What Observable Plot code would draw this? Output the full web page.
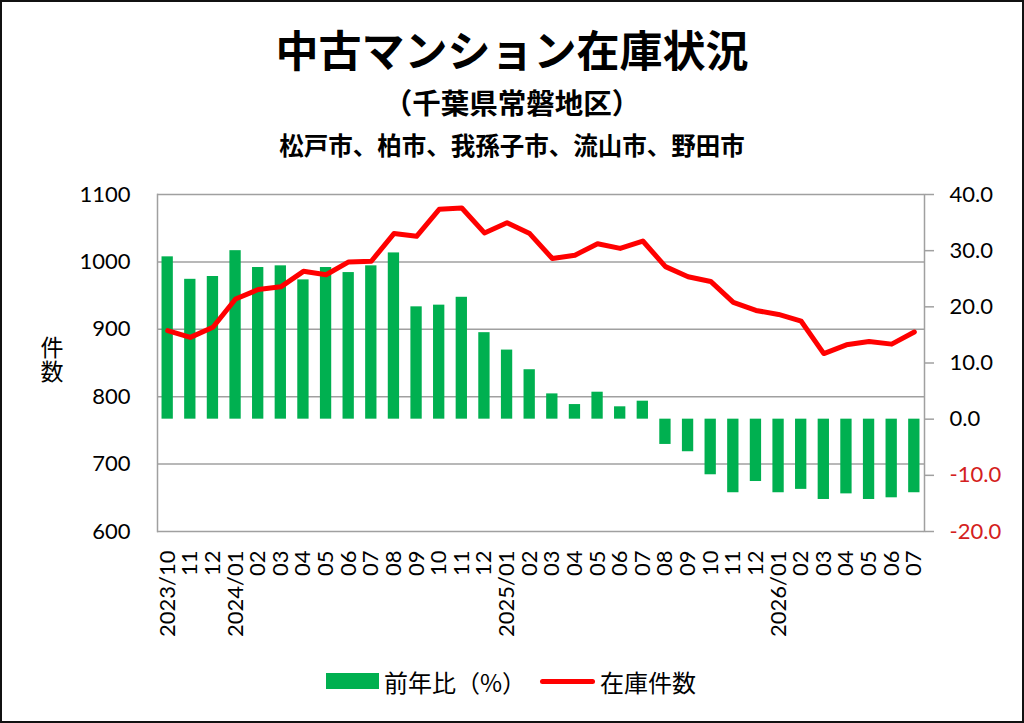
<!DOCTYPE html>
<html><head><meta charset="utf-8">
<script src="https://cdn.jsdelivr.net/npm/d3@7"></script>
<script src="https://cdn.jsdelivr.net/npm/@observablehq/plot@0.6"></script>
<style>
html,body{margin:0;padding:0;background:#fff;}
#wrap{position:relative;width:1024px;height:723px;overflow:hidden;background:#fff;font-family:"Noto Sans CJK JP","Noto Sans",sans-serif;color:#000;}
#border{position:absolute;left:0;top:0;width:1024px;height:723px;box-sizing:border-box;border:2px solid #111;pointer-events:none;}
.t{position:absolute;left:0;width:1024px;text-align:center;white-space:nowrap;}
#title{top:20px;height:56px;line-height:56px;font-size:43px;font-weight:bold;}
#sub1{top:83px;height:38px;line-height:38px;font-size:28.5px;font-weight:bold;}
#sub2{top:128px;height:34px;line-height:34px;font-size:24.5px;font-weight:bold;}
#ylab{position:absolute;left:40px;top:336px;width:24px;font-size:23px;line-height:24px;writing-mode:vertical-rl;text-orientation:upright;letter-spacing:1px;}
#chart{position:absolute;left:0;top:170px;}
#legend{position:absolute;top:666px;left:0;width:1024px;height:32px;font-size:24px;}
.lg{position:absolute;top:0;height:32px;line-height:32px;white-space:nowrap;}
</style></head>
<body><div id="wrap">
<div class="t" id="title">中古マンション在庫状況</div>
<div class="t" id="sub1">（千葉県常磐地区）</div>
<div class="t" id="sub2">松戸市、柏市、我孫子市、流山市、野田市</div>
<div id="ylab">件数</div>
<div id="chart"></div>
<div id="legend">
  <div class="lg" style="left:326px;top:7px;width:53px;height:16px;background:#00b050;"></div>
  <div class="lg" style="left:384px;">前年比（%）</div>
  <div class="lg" style="left:540px;top:13px;width:55px;height:5px;border-radius:3px;background:#ff0000;"></div>
  <div class="lg" style="left:600px;">在庫件数</div>
</div>
<div id="border"></div>
</div>
<script>
const months = ["2023/10","2023/11","2023/12","2024/01","2024/02","2024/03","2024/04","2024/05","2024/06","2024/07","2024/08","2024/09","2024/10","2024/11","2024/12","2025/01","2025/02","2025/03","2025/04","2025/05","2025/06","2025/07","2025/08","2025/09","2025/10","2025/11","2025/12","2026/01","2026/02","2026/03","2026/04","2026/05","2026/06","2026/07"];
const tickLabels = ["2023/10","11","12","2024/01","02","03","04","05","06","07","08","09","10","11","12","2025/01","02","03","04","05","06","07","08","09","10","11","12","2026/01","02","03","04","05","06","07"];
const yoyPct = [28.9,24.9,25.4,30.0,27.0,27.3,24.8,27.0,26.1,27.3,29.6,20.0,20.3,21.7,15.4,12.3,8.8,4.5,2.6,4.8,2.2,3.2,-4.5,-5.8,-9.9,-13.1,-11.1,-13.1,-12.5,-14.3,-13.3,-14.3,-14.0,-13.1];
const inventory = [898,888,903,945,959,963,986,981,1000,1001,1042,1038,1078,1080,1043,1058,1042,1005,1010,1027,1020,1031,993,978,971,940,928,922,912,864,877,882,878,896];
const leftTicks = [600,700,800,900,1000,1100];
const rightTicksPos = [0,10,20,30,40];
const rightTicksNeg = [-20,-10];
const leftDomain = [600,1100];
const rightDomain = [-20,40];

// map right-axis (%) values onto the left-axis scale units
const toLeft = d3.scaleLinear().domain(rightDomain).range(leftDomain);
const labelOf = new Map(months.map((m,i)=>[m,tickLabels[i]]));
const data = months.map((m,i)=>({month:m, pct:yoyPct[i], count:inventory[i]}));
const zeroL = toLeft(0);

const grid = "#a0a0a0";
const chart = Plot.plot({
  width:1024, height:480,
  marginLeft:157, marginRight:100, marginTop:24, marginBottom:119,
  style:{fontFamily:"Lato, 'Open Sans', sans-serif", fontSize:"22px", color:"#000", background:"transparent"},
  x:{type:"band", domain:months, paddingInner:0.5, paddingOuter:0.2, round:false, axis:null},
  y:{domain:leftDomain, axis:null},
  marks:[
    Plot.ruleY([700,800,900,1000], {stroke:grid, strokeWidth:1.5}),
    Plot.ruleY([600,1100], {stroke:grid, strokeWidth:1.5}),
    Plot.frame({anchor:"left", stroke:grid, strokeWidth:1.5}),
    Plot.barY(data, {x:"month", y1:zeroL, y2:d=>toLeft(d.pct), fill:"#00b050"}),
    Plot.lineY(data, {x:"month", y:"count", stroke:"#ff0000", strokeWidth:5, strokeLinejoin:"round", strokeLinecap:"round"}),
    Plot.axisY({anchor:"left", ticks:leftTicks, tickSize:0, tickPadding:27, tickFormat:d=>String(d), label:null, fill:"#000"}),
    Plot.axisY({anchor:"right", ticks:rightTicksPos.map(toLeft), tickSize:9, tickPadding:16, stroke:grid, strokeWidth:1.5, fill:"#000", tickFormat:d=>toLeft.invert(d).toFixed(1), label:null}),
    Plot.axisY({anchor:"right", ticks:rightTicksNeg.map(toLeft), tickSize:9, tickPadding:16, stroke:grid, strokeWidth:1.5, fill:"#d42020", tickFormat:d=>toLeft.invert(d).toFixed(1), label:null}),
    Plot.axisX({ticks:months, tickRotate:-90, tickSize:0, tickPadding:19, tickFormat:d=>labelOf.get(d), label:null, fill:"#000"}),
    Plot.frame({anchor:"right", stroke:grid, strokeWidth:1.5})
  ]
});
document.getElementById("chart").appendChild(chart);
</script>
</body></html>
